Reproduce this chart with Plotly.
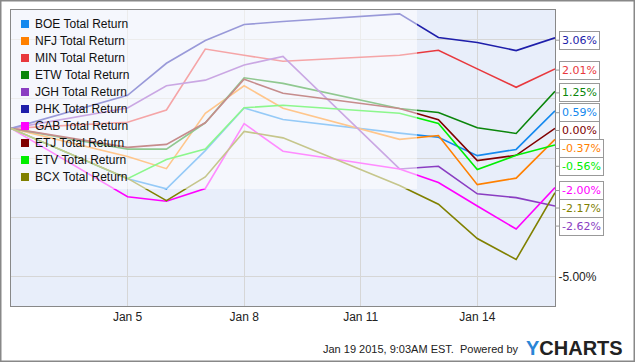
import plotly.graph_objects as go

dates = ["2015-01-02", "2015-01-05", "2015-01-06", "2015-01-07", "2015-01-08", "2015-01-09",
         "2015-01-12", "2015-01-13", "2015-01-14", "2015-01-15", "2015-01-16"]

series_names = ["BOE Total Return", "NFJ Total Return", "MIN Total Return", "ETW Total Return",
                "JGH Total Return", "PHK Total Return", "GAB Total Return", "ETJ Total Return",
                "ETV Total Return", "BCX Total Return"]

boe = [0, -1.70, -2.04, -0.75, 0.69, 0.30, -0.16, -0.30, -0.92, -0.71, 0.59]
nfj = [0, -0.95, -1.36, 0.51, 1.44, 0.68, -0.37, -0.24, -1.90, -1.68, -0.37]
mn = [0, 0.21, 0.62, 2.68, 2.47, 2.27, 2.47, 2.64, 2.01, 1.39, 2.01]
etw = [0, -0.70, -0.70, 0.19, 1.71, 1.52, 0.67, 0.54, 0.02, -0.17, 1.25]
jgh = [0, 0.69, 1.44, 1.63, 2.14, 2.43, -1.37, -1.28, -2.21, -2.34, -2.62]
phk = [0, 1.12, 2.20, 2.97, 3.51, 3.61, 3.87, 3.07, 2.90, 2.63, 3.06]
gab = [0, -2.31, -2.46, -2.03, 0.16, -0.77, -1.37, -1.83, -2.62, -3.40, -2.00]
etj = [0, -0.64, -0.54, 0.19, 1.66, 1.19, 0.67, 0.29, -1.09, -0.91, 0.00]
etv = [0, -1.70, -1.05, -0.70, 0.70, 0.78, 0.51, 0.17, -1.39, -0.91, -0.56]
bcx = [0, -1.69, -2.44, -1.64, -0.10, -0.32, -1.93, -2.56, -3.72, -4.43, -2.17]

values = [boe, nfj, mn, etw, jgh, phk, gab, etj, etv, bcx]
colors = ["#1589ee", "#ff8000", "#e8383d", "#0b860b", "#8a3dc2",
          "#1e1eaa", "#ff00ff", "#800000", "#00ee00", "#808000"]

# end-label flag positions (dodged, in % units)
flag_y = [0.53, -0.68, 1.97, 1.20, -3.30, 2.98, -2.10, -0.07, -1.28, -2.69]

x_tickvals = ["2015-01-05", "2015-01-08", "2015-01-11", "2015-01-14"]
x_ticktext = ["Jan 5", "Jan 8", "Jan 11", "Jan 14"]
y_tickvals = [-5, -3, -1, 1, 3]
y_ticktext = ["-5.00%", "", "", "", ""]

fig = go.Figure()
for name, vals, col in zip(series_names, values, colors):
    fig.add_trace(go.Scatter(x=dates, y=vals, mode="lines", name=name,
                             line=dict(color=col, width=1.6), showlegend=False,
                             hoverinfo="skip"))

W, H = 635, 362
ml, mr, mt, mb = 11, 80, 10, 56
pw, ph = W - ml - mr, H - mt - mb

def px_x(p):
    return (p - ml) / pw

def px_y(p):
    return 1 - (p - mt) / ph

shapes = []
# semi-transparent legend backdrop
shapes.append(dict(type="rect", xref="paper", yref="paper", x0=0, x1=px_x(417),
                   y0=px_y(189), y1=1, fillcolor="rgba(255,255,255,0.55)",
                   line=dict(width=0), layer="above"))
annotations = []
for i, (name, col) in enumerate(zip(series_names, colors)):
    cy = 24 + 17 * i
    shapes.append(dict(type="rect", xref="paper", yref="paper",
                       x0=px_x(21), x1=px_x(29), y0=px_y(cy + 4), y1=px_y(cy - 4),
                       fillcolor=col, line=dict(width=0), layer="above"))
    annotations.append(dict(xref="paper", yref="paper", x=px_x(33), y=px_y(cy),
                            text=name, showarrow=False, xanchor="left", yanchor="middle",
                            font=dict(family="Liberation Sans, Arial", size=12, color="#111")))

# end flags
for vals, col, fy in zip(values, colors, flag_y):
    annotations.append(dict(xref="paper", yref="y", x=1, y=fy,
                            text=f"{vals[-1]:.2f}%", showarrow=True, arrowhead=0,
                            arrowwidth=1, arrowcolor="#999", ax=4, ay=0, standoff=0,
                            xanchor="left", yanchor="middle",
                            bgcolor="white", bordercolor="#999", borderwidth=1, borderpad=2,
                            font=dict(family="DejaVu Sans", size=11, color=col)))

# outer border
shapes.append(dict(type="rect", xref="paper", yref="paper",
                   x0=px_x(0.75), x1=px_x(634.25), y0=px_y(361.25), y1=px_y(0.75),
                   line=dict(color="#888", width=1.5), fillcolor="rgba(0,0,0,0)"))

annotations.append(dict(xref="paper", yref="paper", x=px_x(521), y=px_y(349),
                        text="Jan 19 2015, 9:03AM EST.  Powered by", showarrow=False,
                        xanchor="right", yanchor="middle",
                        font=dict(family="Liberation Sans, Arial", size=11, color="#222")))
annotations.append(dict(xref="paper", yref="paper", x=px_x(524), y=px_y(348),
                        text="<b><span style='color:#2a86d6'>Y</span>CHARTS</b>", showarrow=False,
                        xanchor="left", yanchor="middle",
                        font=dict(family="Liberation Sans, Arial", size=20, color="#222")))

fig.update_layout(
    width=W, height=H,
    margin=dict(l=ml, r=mr, t=mt, b=mb),
    paper_bgcolor="white",
    plot_bgcolor="#e8eefa",
    shapes=shapes,
    annotations=annotations,
    showlegend=False,
    xaxis=dict(type="date", range=["2015-01-02", "2015-01-16"],
               tickvals=x_tickvals, ticktext=x_ticktext,
               showgrid=True, gridcolor="#d6d6d6", gridwidth=1,
               showline=True, linecolor="#888", linewidth=1, mirror=True,
               ticks="", zeroline=False, automargin=False,
               tickfont=dict(family="Liberation Sans, Arial", size=12, color="#222")),
    yaxis=dict(range=[-6, 4], side="right", tickvals=y_tickvals, ticktext=y_ticktext,
               showgrid=True, gridcolor="#d6d6d6", gridwidth=1,
               showline=True, linecolor="#888", linewidth=1, mirror=True,
               ticks="", zeroline=False, automargin=False,
               tickfont=dict(family="Liberation Sans, Arial", size=12, color="#222")),
)

fig.write_html("out.html", config={"displayModeBar": False},
               post_script="document.body.style.margin='0';")
